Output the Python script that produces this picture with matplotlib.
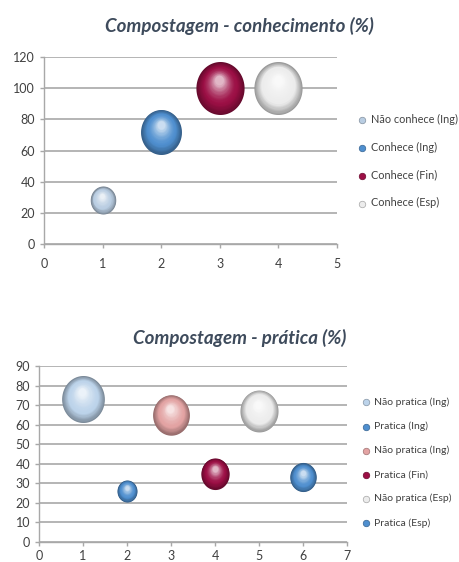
import numpy as np
import matplotlib.pyplot as plt
from matplotlib.path import Path
from matplotlib.transforms import offset_copy
from matplotlib.colors import to_rgb

# ------------------------------------------------------------------------------
# data
# ------------------------------------------------------------------------------

conh_labels = ['Não conhece (Ing)', 'Conhece (Ing)', 'Conhece (Fin)', 'Conhece (Esp)']
conh_x = [1, 2, 3, 4]
conh_y = [28, 72, 100, 100]
conh_size = [28, 72, 100, 100]

prat_labels = ['Não pratica (Ing)', 'Pratica (Ing)', 'Não pratica (Ing)',
               'Pratica (Fin)', 'Não pratica (Esp)', 'Pratica (Esp)']
prat_x = [1, 2, 3, 4, 5, 6]
prat_y = [73, 26, 65, 35, 67, 33]
prat_size = [73, 16, 54, 32, 58, 28]

conh_colors = ['#b9cde2', '#4f8fcf', '#9c0f45', '#ececec']
prat_colors = ['#bcd3ea', '#4f8fcf', '#e3a3a3', '#9c0f45', '#ececec', '#4f8fcf']

# ------------------------------------------------------------------------------

plt.rcParams['font.family'] = ['Lato', 'DejaVu Sans']
TXT = '#404040'
GRID = '#a8a8a8'

# slightly tall ellipse, like the stretched excel bubbles
t = np.linspace(0, 2 * np.pi, 80)
ell = Path(np.column_stack([np.cos(t) / 1.1, np.sin(t)]), closed=True)


def mix(c, other, f):
    a = np.array(to_rgb(c))
    b = np.array(to_rgb(other))
    return tuple(a * (1 - f) + b * f)


def sphere(ax, fig, x, y, d, color):
    # d = height of bubble in points; stacked layers fake the 3d shading
    n = 26
    for i in range(n):
        f = 1 - 0.85 * i / n
        off = (1 - f) * d * 0.18
        tr = offset_copy(ax.transData, fig=fig, x=-off * 0.1, y=off, units='points')
        k = i / (n - 1)
        if k < 0.35:
            c = mix(color, 'black', 0.35 * (1 - k / 0.35))
        else:
            c = mix(color, 'white', ((k - 0.35) / 0.65) ** 1.6 * 0.7)
        ax.scatter([x], [y], s=(d * f) ** 2, marker=ell, color=c,
                   linewidths=0, transform=tr, zorder=3)


def styleAxes(ax, xmax, ymax, ystep, xpad):
    ax.set_xlim(0, xmax)
    ax.set_ylim(0, ymax)
    ax.set_xticks(range(0, xmax + 1))
    ax.set_yticks(range(0, ymax + 1, ystep))
    ax.yaxis.grid(True, color=GRID, linewidth=1.2)
    ax.set_axisbelow(True)
    for s in ['top', 'right']:
        ax.spines[s].set_visible(False)
    for s in ['left', 'bottom']:
        ax.spines[s].set_color(GRID)
        ax.spines[s].set_linewidth(1.0)
    ax.tick_params(colors=GRID, labelcolor=TXT, labelsize=9, length=3, width=1)
    ax.tick_params(axis='x', pad=xpad)


fig = plt.figure(figsize=(4.6, 5.62), dpi=100)

# ------------------------------------------------------------------------------
# conhecimento
ax1 = fig.add_axes([0.0957, 0.5658, 0.637, 0.3327])
styleAxes(ax1, 5, 120, 20, 7)
for xi, yi, si, ci in zip(conh_x, conh_y, conh_size, conh_colors):
    sphere(ax1, fig, xi, yi, 53 * 0.72 * np.sqrt(si / 100.0), ci)
h1 = [ax1.scatter([], [], s=22, color=c, edgecolors=mix(c, 'black', 0.3), linewidths=0.5)
      for c in conh_colors]
fig.legend(h1, conh_labels, loc='upper left', bbox_to_anchor=(0.755, 0.805),
           frameon=False, fontsize=7.8, handletextpad=-0.2, labelspacing=1.55,
           labelcolor=TXT, borderaxespad=0)
fig.text(0.52, 0.953, 'Compostagem - conhecimento (%)', ha='center', va='center',
         fontsize=13.5, fontstyle='italic', fontweight='bold', color='#3e4b5c')

# ------------------------------------------------------------------------------
# pratica
ax2 = fig.add_axes([0.0848, 0.0356, 0.6696, 0.3132])
styleAxes(ax2, 7, 90, 10, 3)
for xi, yi, si, ci in zip(prat_x, prat_y, prat_size, prat_colors):
    sphere(ax2, fig, xi, yi, 47 * 0.72 * np.sqrt(si / 73.0), ci)
h2 = [ax2.scatter([], [], s=22, color=c, edgecolors=mix(c, 'black', 0.3), linewidths=0.5)
      for c in prat_colors]
fig.legend(h2, prat_labels, loc='upper left', bbox_to_anchor=(0.765, 0.3),
           frameon=False, fontsize=7.5, handletextpad=-0.3, labelspacing=1.4,
           labelcolor=TXT, borderaxespad=0)
fig.text(0.52, 0.398, 'Compostagem - prática (%)', ha='center', va='center',
         fontsize=13.5, fontstyle='italic', fontweight='bold', color='#3e4b5c')

fig.savefig('out.png', dpi=100, facecolor='white')
